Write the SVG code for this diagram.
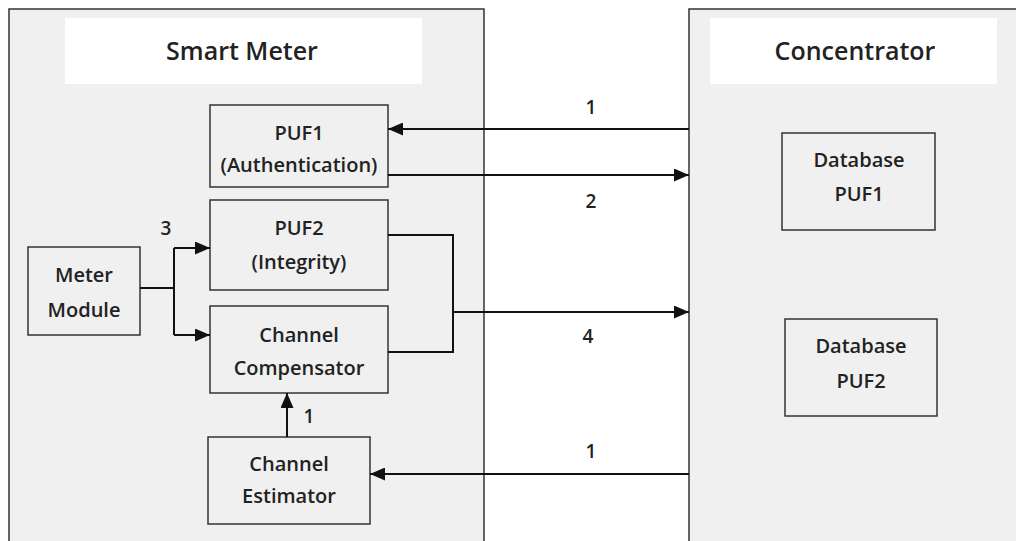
<svg xmlns="http://www.w3.org/2000/svg" width="1016" height="541" viewBox="0 0 1016 541">
<style>
.big{fill:#f0f0f0;stroke:#333;stroke-width:1.5}
.title{fill:#fff;stroke:none}
.box{fill:#f0f0f0;stroke:#333;stroke-width:1.5}
text{font-family:"Open Sans","Liberation Sans",sans-serif;font-weight:600;fill:#222;text-anchor:middle}
.t{font-size:25px}
.n{font-size:19px}
.l{font-size:20px}
.c{fill:none;stroke:#111;stroke-width:2}
</style>
<defs>
<marker id="ah" markerWidth="15" markerHeight="13" refX="15" refY="6.5" orient="auto" markerUnits="userSpaceOnUse">
<path d="M0,0 L15,6.5 L0,13 Z" fill="#111"/>
</marker>
</defs>
<rect width="1016" height="541" fill="#fff"/>
<g id="smart-meter">
<rect class="big" x="9" y="9" width="475" height="545"/>
<rect class="title" x="65" y="18" width="357" height="66"/>
<text class="t" x="242" y="60">Smart Meter</text>
</g>
<g id="concentrator">
<rect class="big" x="689" y="9" width="340" height="545"/>
<rect class="title" x="710" y="18" width="287" height="66"/>
<text class="t" x="855" y="60">Concentrator</text>
</g>
<g id="puf1">
<rect class="box" x="210" y="105" width="178" height="82"/>
<text class="l" x="299" y="140">PUF1</text>
<text class="l" x="299" y="172">(Authentication)</text>
</g>
<g id="puf2">
<rect class="box" x="210" y="200" width="178" height="90"/>
<text class="l" x="299" y="235">PUF2</text>
<text class="l" x="299" y="269">(Integrity)</text>
</g>
<g id="meter-module">
<rect class="box" x="28" y="247" width="112" height="88"/>
<text class="l" x="84" y="282">Meter</text>
<text class="l" x="84" y="317">Module</text>
</g>
<g id="channel-compensator">
<rect class="box" x="210" y="306" width="178" height="87"/>
<text class="l" x="299" y="342">Channel</text>
<text class="l" x="299" y="375">Compensator</text>
</g>
<g id="channel-estimator">
<rect class="box" x="208" y="437" width="162" height="87"/>
<text class="l" x="289" y="471">Channel</text>
<text class="l" x="289" y="503">Estimator</text>
</g>
<g id="database-puf1">
<rect class="box" x="782" y="133" width="153" height="97"/>
<text class="l" x="859" y="167">Database</text>
<text class="l" x="859" y="201">PUF1</text>
</g>
<g id="database-puf2">
<rect class="box" x="785" y="319" width="152" height="97"/>
<text class="l" x="861" y="353">Database</text>
<text class="l" x="861" y="388">PUF2</text>
</g>
<g id="connectors">
<path class="c" d="M689,129 L388,129" marker-end="url(#ah)"/>
<path class="c" d="M388,175 L689,175" marker-end="url(#ah)"/>
<path class="c" d="M140,288 L174,288"/>
<path class="c" d="M174,248 L174,335"/>
<path class="c" d="M174,248 L210,248" marker-end="url(#ah)"/>
<path class="c" d="M174,335 L210,335" marker-end="url(#ah)"/>
<path class="c" d="M388,235 L453,235 L453,352 L388,352"/>
<path class="c" d="M453,312 L689,312" marker-end="url(#ah)"/>
<path class="c" d="M287,437 L287,393" marker-end="url(#ah)"/>
<path class="c" d="M689,474 L370,474" marker-end="url(#ah)"/>
<text class="n" x="591" y="114">1</text>
<text class="n" x="591" y="208">2</text>
<text class="n" x="166" y="235">3</text>
<text class="n" x="588" y="343">4</text>
<text class="n" x="591" y="458">1</text>
<text class="n" x="309" y="423">1</text>
</g>
</svg>
